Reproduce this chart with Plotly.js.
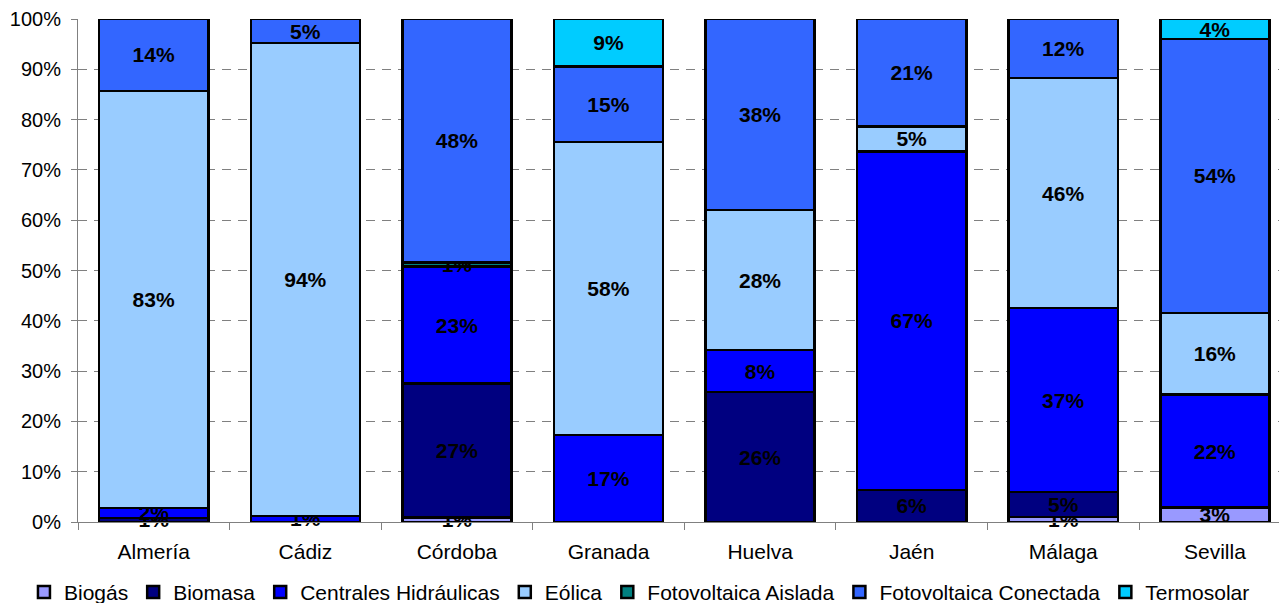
<!DOCTYPE html>
<html>
<head>
<meta charset="utf-8">
<script src="https://cdn.plot.ly/plotly-3.0.1.min.js"></script>
<style>html,body{margin:0;padding:0;background:#fff;}#chart{width:1279px;height:603px;}</style>
</head>
<body>
<div id="chart"></div>
<script>
const categories = ['Almería','Cádiz','Córdoba','Granada','Huelva','Jaén','Málaga','Sevilla'];
const biogas      = [0,    0,    0.9,  0,    0,    0,    1.0,  2.9];
const biomasa     = [0.8,  0,    26.6, 0,    25.8, 6.4,  5.0,  0];
const hidraulicas = [2.0,  1.2,  23.3, 17.3, 8.4,  67.3, 36.5, 22.4];
const eolica      = [82.9, 94.0, 0,    58.2, 27.8, 4.9,  45.8, 16.3];
const fvAislada   = [0,    0,    0.8,  0,    0,    0,    0,    0];
const fvConectada = [14.3, 4.8,  48.4, 15.1, 38.0, 21.4, 11.7, 54.4];
const termosolar  = [0,    0,    0,    9.4,  0,    0,    0,    4.0];
const yTicks = [0,10,20,30,40,50,60,70,80,90,100];

const seriesNames = ['Biogás','Biomasa','Centrales Hidráulicas','Eólica','Fotovoltaica Aislada','Fotovoltaica Conectada','Termosolar'];
const seriesValues = [biogas, biomasa, hidraulicas, eolica, fvAislada, fvConectada, termosolar];
const seriesColors = ['#9999FF','#000080','#0000FF','#99CCFF','#008080','#3366FF','#00CCFF'];

const FONT = 'Arial, "Liberation Sans", sans-serif';

const traces = seriesNames.map((name, i) => ({
  type: 'bar',
  name: name,
  x: categories,
  y: seriesValues[i],
  text: seriesValues[i].map(v => v > 0 ? Math.round(v) + '%' : ''),
  textposition: 'inside',
  insidetextanchor: 'middle',
  textangle: 0,
  constraintext: 'none',
  cliponaxis: false,
  textfont: {family: FONT, size: 21, color: '#000', weight: 'bold'},
  insidetextfont: {family: FONT, size: 21, color: '#000', weight: 'bold'},
  marker: {color: seriesColors[i], line: {color: '#000', width: 2.5}},
  hoverinfo: 'skip'
}));

const layout = {
  width: 1279, height: 603,
  margin: {l: 78, r: 0, t: 19, b: 81, autoexpand: false},
  barmode: 'stack',
  bargap: 0.28,
  paper_bgcolor: '#fff',
  plot_bgcolor: '#fff',
  font: {family: FONT, size: 21, color: '#000'},
  showlegend: true,
  xaxis: {
    type: 'category',
    range: [-0.5, 7.423],
    showline: true, linecolor: '#808080', linewidth: 1,
    ticks: 'outside', tickson: 'boundaries', ticklen: 7, tickcolor: '#808080', tickwidth: 1,
    showgrid: false,
    tickfont: {family: FONT, size: 21, color: '#000'},
    ticklabelstandoff: 11
  },
  yaxis: {
    range: [0, 100],
    tickvals: yTicks,
    ticktext: yTicks.map(t => t + '%'),
    showline: true, linecolor: '#808080', linewidth: 1,
    ticks: 'outside', ticklen: 6, tickcolor: '#808080', tickwidth: 1,
    showgrid: true, gridcolor: '#808080', gridwidth: 1, griddash: '9px,7px',
    zeroline: false,
    tickfont: {family: FONT, size: 20, color: '#000'},
    ticklabelstandoff: 6
  },
  legend: {
    orientation: 'h',
    traceorder: 'normal',
    x: -0.045, xanchor: 'left',
    y: -0.099, yanchor: 'top',
    font: {family: FONT, size: 21, color: '#000'},
    bgcolor: 'rgba(0,0,0,0)',
    itemclick: false, itemdoubleclick: false
  }
};

Plotly.newPlot('chart', traces, layout, {staticPlot: true, displayModeBar: false});
</script>
</body>
</html>
